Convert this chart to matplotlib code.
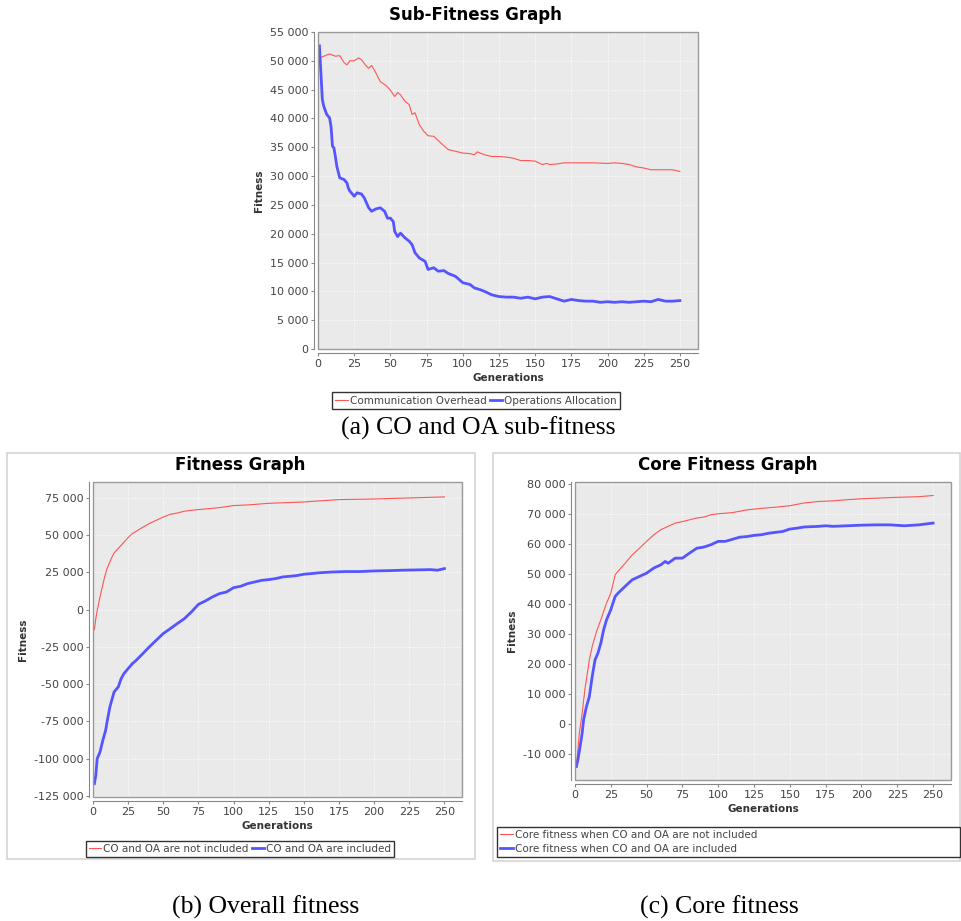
import matplotlib
matplotlib.use("Agg")
import matplotlib.pyplot as plt
from matplotlib.patches import Rectangle
from matplotlib.ticker import FuncFormatter, MultipleLocator

# ---- data ----
# (a) sub-fitness
co_gen = [1, 8, 12, 15, 18, 20, 22, 25, 28, 30, 33, 35, 37, 40, 43, 47, 50, 53, 55, 57,
          60, 63, 65, 67, 70, 73, 76, 80, 85, 90, 95, 100, 105, 108, 110, 115, 120, 125,
          130, 135, 140, 145, 150, 155, 158, 160, 165, 170, 175, 180, 190, 200, 205, 210,
          215, 220, 225, 230, 240, 245, 250]
co_fit = [50500, 51200, 50800, 50900, 49700, 49300, 50000, 50000, 50500, 50200, 49200,
          48700, 49200, 47900, 46400, 45700, 44900, 43800, 44500, 44100, 43000, 42400,
          40700, 41000, 38900, 37800, 37000, 36900, 35700, 34600, 34300, 34000, 33900,
          33700, 34200, 33700, 33400, 33400, 33300, 33100, 32700, 32700, 32600, 32000,
          32200, 32000, 32100, 32300, 32300, 32300, 32300, 32200, 32300, 32200, 32000,
          31600, 31400, 31100, 31100, 31100, 30800]
oa_gen = [1, 2, 3, 4, 6, 8, 9, 10, 11, 12, 13, 15, 18, 20, 21, 22, 25, 27, 30, 32, 35, 37,
          40, 43, 46, 48, 50, 52, 53, 55, 57, 60, 63, 65, 67, 70, 72, 74, 76, 80, 83, 87,
          90, 95, 100, 105, 108, 112, 115, 120, 125, 130, 135, 140, 145, 150, 155, 160,
          165, 170, 175, 180, 185, 190, 195, 200, 205, 210, 215, 220, 225, 230, 235, 240,
          245, 250]
oa_fit = [52600, 47900, 43300, 42100, 40700, 40100, 38600, 35200, 34900, 33400, 31700,
          29700, 29400, 28800, 27900, 27400, 26500, 27100, 26900, 26200, 24500, 23900,
          24300, 24500, 23900, 22700, 22700, 22100, 20400, 19500, 20100, 19300, 18700,
          18100, 16700, 15800, 15500, 15200, 13800, 14100, 13500, 13600, 13100, 12600,
          11500, 11200, 10600, 10300, 10000, 9400, 9100, 9000, 9000, 8800, 9000, 8700,
          9000, 9100, 8700, 8300, 8600, 8400, 8300, 8300, 8100, 8200, 8100, 8200, 8100,
          8200, 8300, 8200, 8600, 8300, 8300, 8400]

# (b) overall fitness
nin_gen = [1, 2, 3, 5, 8, 10, 13, 15, 20, 25, 28, 30, 35, 40, 45, 50, 55, 60, 65, 70, 75,
           80, 90, 100, 110, 125, 150, 175, 200, 225, 250]
nin_fit = [-13400, -6000, -400, 8600, 20900, 27600, 34300, 38100, 43200, 48400, 51100,
           52200, 55100, 57800, 60000, 62200, 64000, 64900, 66100, 66700, 67200, 67600,
           68500, 69900, 70300, 71400, 72300, 73900, 74300, 75000, 75700]
inc_gen = [1, 2, 3, 5, 7, 9, 10, 12, 13, 15, 18, 20, 22, 25, 28, 30, 35, 40, 45, 50, 55,
           60, 65, 70, 75, 80, 85, 90, 95, 100, 105, 110, 115, 120, 125, 130, 135, 140,
           145, 150, 155, 160, 170, 180, 190, 200, 210, 220, 230, 240, 245, 250]
inc_fit = [-116700, -111100, -99900, -95500, -87600, -80900, -75300, -65300, -61900,
           -55200, -51800, -46300, -42900, -39500, -36200, -34600, -29900, -25000, -20500,
           -16000, -12700, -9300, -6000, -1500, 3600, 5900, 8600, 10800, 11900, 14800,
           15700, 17500, 18600, 19700, 20200, 20900, 22000, 22400, 22900, 23800, 24200,
           24700, 25300, 25600, 25600, 26000, 26200, 26500, 26700, 26900, 26500, 27600]

# (c) core fitness
cnin_gen = [1, 2, 3, 5, 7, 9, 10, 12, 15, 18, 20, 22, 25, 28, 30, 35, 40, 45, 50, 55, 60,
            65, 70, 75, 80, 85, 90, 95, 100, 110, 120, 130, 140, 150, 160, 170, 180, 190,
            200, 210, 225, 240, 250]
cnin_fit = [-13700, -8700, -3100, 3600, 11900, 18000, 21400, 25800, 30800, 34700, 37500,
            40300, 43600, 49700, 50900, 53600, 56400, 58600, 60900, 63100, 64800, 65900,
            67000, 67500, 68100, 68700, 69000, 69800, 70100, 70500, 71400, 71900, 72300,
            72800, 73700, 74200, 74400, 74800, 75100, 75300, 75600, 75800, 76200]
cinc_gen = [1, 2, 3, 5, 6, 8, 10, 12, 14, 16, 18, 20, 22, 25, 28, 30, 35, 40, 45, 50, 55,
            60, 63, 65, 70, 75, 80, 85, 90, 95, 100, 105, 110, 115, 120, 125, 130, 135,
            140, 145, 150, 155, 160, 170, 175, 180, 190, 200, 210, 220, 230, 240, 250]
cinc_fit = [-14200, -12000, -9200, -3100, 1400, 5800, 9100, 15800, 21400, 23600, 26900,
            31400, 34700, 38100, 42500, 43600, 45900, 48100, 49200, 50300, 52000, 53100,
            54200, 53600, 55300, 55300, 57000, 58600, 59000, 59800, 60900, 60900, 61600,
            62300, 62500, 62900, 63100, 63600, 63900, 64200, 65000, 65300, 65700, 65900,
            66100, 65900, 66100, 66300, 66400, 66400, 66100, 66400, 67000]

RED = '#FF5555'
BLUE = '#5555FF'
W, H = 961, 921

fig = plt.figure(figsize=(W / 100, H / 100), dpi=100)
fig.patch.set_facecolor('white')


def sep_fmt(v, pos):
    return '{:,}'.format(int(round(v))).replace(',', ' ')


def make_axes(l, t, r, b):
    return fig.add_axes([l / W, 1 - b / H, (r - l) / W, (b - t) / H])


def style(ax, ylim, ystep):
    ax.set_facecolor('#EAEAEA')
    ax.set_xlim(0, 262.5)
    ax.set_ylim(*ylim)
    ax.xaxis.set_major_locator(MultipleLocator(25))
    ax.yaxis.set_major_locator(MultipleLocator(ystep))
    ax.yaxis.set_major_formatter(FuncFormatter(sep_fmt))
    ax.grid(True, color='white', ls=':', lw=0.7)
    ax.set_axisbelow(True)
    for s in ['top', 'right']:
        ax.spines[s].set_visible(False)
    for s in ['left', 'bottom']:
        ax.spines[s].set_position(('outward', 3))
        ax.spines[s].set_color('#888888')
    ax.add_patch(Rectangle((0, 0), 1, 1, transform=ax.transAxes, fill=False,
                           ec='#999999', lw=1.0, clip_on=False, zorder=5))
    ax.tick_params(labelsize=8, labelcolor='#444444', color='#888888', length=2, pad=2)
    ax.set_xlabel('Generations', fontsize=7.5, fontweight='bold', color='#333333', labelpad=3)
    ax.set_ylabel('Fitness', fontsize=7.5, fontweight='bold', color='#333333', labelpad=4)


def add_legend(handles, labels, **kw):
    leg = fig.legend(handles, labels, fontsize=7.5, handlelength=1.2, handletextpad=0.2,
                     borderpad=0.3, fancybox=False, framealpha=1, **kw)
    leg.get_frame().set_edgecolor('#333333')
    for t in leg.get_texts():
        t.set_color('#444444')
    return leg


title_kw = dict(fontsize=12, fontweight='bold', ha='center', va='center')

# panel frames of the two lower charts
fig.add_artist(Rectangle((7 / W, 1 - 859 / H), 468 / W, 406 / H, transform=fig.transFigure,
                         fill=False, ec='#D4D4D4', lw=1.2))
fig.add_artist(Rectangle((493 / W, 1 - 861 / H), 467 / W, 408 / H, transform=fig.transFigure,
                         fill=False, ec='#D4D4D4', lw=1.2))

# (a)
ax1 = make_axes(318, 32, 698, 349)
style(ax1, (0, 55000), 5000)
l1, = ax1.plot(co_gen, co_fit, color=RED, lw=0.8)
l2, = ax1.plot(oa_gen, oa_fit, color=BLUE, lw=2)
fig.text(475 / W, 1 - 15 / H, 'Sub-Fitness Graph', **title_kw)
add_legend([l1, l2], ['Communication Overhead', 'Operations Allocation'], ncol=2,
           loc='center', bbox_to_anchor=(476 / W, 1 - 400.5 / H), columnspacing=0.3)

# (b)
ax2 = make_axes(93, 482, 462, 797)
style(ax2, (-125700, 85700), 25000)
l3, = ax2.plot(nin_gen, nin_fit, color=RED, lw=0.8)
l4, = ax2.plot(inc_gen, inc_fit, color=BLUE, lw=2)
fig.text(240 / W, 1 - 465 / H, 'Fitness Graph', **title_kw)
add_legend([l3, l4], ['CO and OA are not included', 'CO and OA are included'], ncol=2,
           loc='center', bbox_to_anchor=(240 / W, 1 - 849 / H), columnspacing=0.3)

# (c)
ax3 = make_axes(575, 482, 951, 780)
style(ax3, (-18700, 80700), 10000)
l5, = ax3.plot(cnin_gen, cnin_fit, color=RED, lw=0.8)
l6, = ax3.plot(cinc_gen, cinc_fit, color=BLUE, lw=2)
fig.text(728 / W, 1 - 465 / H, 'Core Fitness Graph', **title_kw)
add_legend([l5, l6], ['Core fitness when CO and OA are not included',
                      'Core fitness when CO and OA are included'],
           loc='lower left', mode='expand',
           bbox_to_anchor=(497 / W, 1 - 857 / H, 463 / W, 34 / H),
           labelspacing=0.4, borderaxespad=0)

# captions
cap = dict(fontsize=18.5, family='Liberation Serif', ha='center', va='center')
fig.text(478 / W, 1 - 428 / H, '(a) CO and OA sub-fitness', **cap)
fig.text(266 / W, 1 - 907 / H, '(b) Overall fitness', **cap)
fig.text(719 / W, 1 - 907 / H, '(c) Core fitness', **cap)

fig.savefig('out.png', dpi=100)
